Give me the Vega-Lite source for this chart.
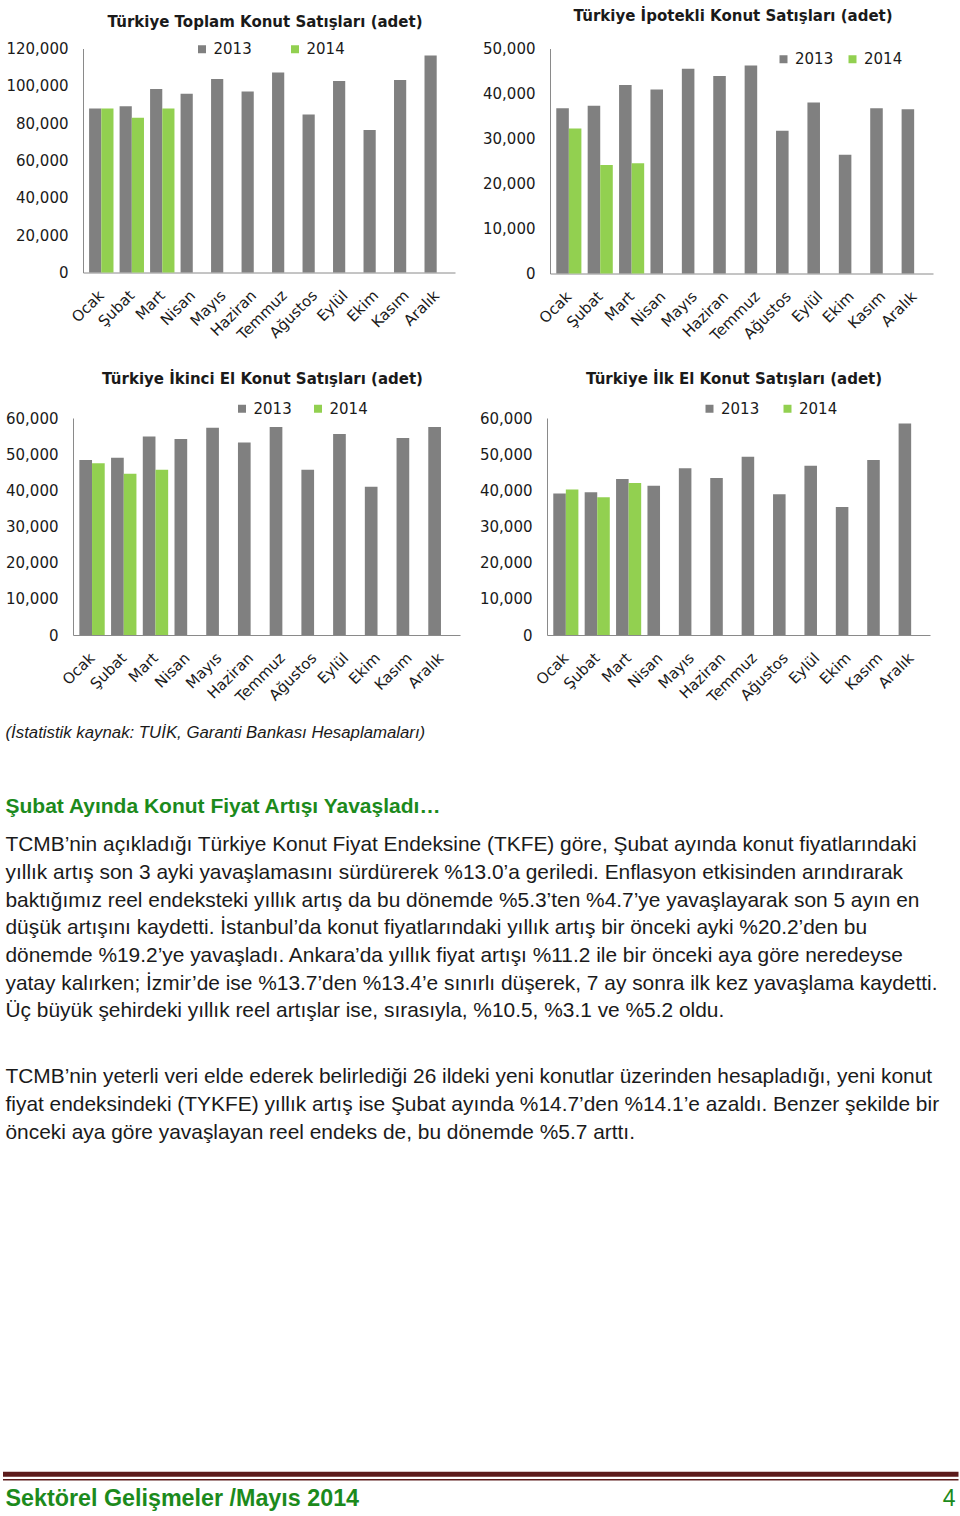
{
  "$schema": "https://vega.github.io/schema/vega-lite/v6.json",
  "background": "white",
  "padding": {"left": 0, "top": 8.5, "right": 0, "bottom": 0},
  "config": {
    "view": {"stroke": null},
    "font": "DejaVu Sans",
    "axis": {"domainColor": "#8a8a8a", "domainWidth": 1, "ticks": false, "grid": false, "labelFont": "DejaVu Sans", "labelFontSize": 15, "labelColor": "#1a1a1a", "labelOverlap": false},
    "axisY": {"labelPadding": 15},
    "axisX": {"labelAngle": -45, "labelPadding": 20, "labelBaseline": "middle", "labelAlign": "right"},
    "legend": {"orient": "none", "direction": "horizontal", "symbolType": "square", "symbolSize": 64, "symbolStrokeWidth": 0, "symbolOpacity": 1, "labelFont": "DejaVu Sans", "labelFontSize": 15, "labelColor": "#1a1a1a", "labelOffset": 4, "padding": 0},
    "title": {"font": "DejaVu Sans", "fontSize": 15, "fontWeight": "bold", "color": "#1a1a1a", "anchor": "middle", "frame": "group"},
    "scale": {"bandPaddingInner": 0.46, "bandPaddingOuter": 0.23}
  },
  "datasets": {
    "toplam": [
      {"month": "Ocak", "year": "2013", "value": 87900}, {"month": "Şubat", "year": "2013", "value": 89000}, {"month": "Mart", "year": "2013", "value": 98300}, {"month": "Nisan", "year": "2013", "value": 95800}, {"month": "Mayıs", "year": "2013", "value": 103700}, {"month": "Haziran", "year": "2013", "value": 96900}, {"month": "Temmuz", "year": "2013", "value": 107100}, {"month": "Ağustos", "year": "2013", "value": 84700}, {"month": "Eylül", "year": "2013", "value": 102600}, {"month": "Ekim", "year": "2013", "value": 76400}, {"month": "Kasım", "year": "2013", "value": 103100}, {"month": "Aralık", "year": "2013", "value": 116200},
      {"month": "Ocak", "year": "2014", "value": 87900}, {"month": "Şubat", "year": "2014", "value": 82900}, {"month": "Mart", "year": "2014", "value": 87900}
    ],
    "ipotekli": [
      {"month": "Ocak", "year": "2013", "value": 36700}, {"month": "Şubat", "year": "2013", "value": 37300}, {"month": "Mart", "year": "2013", "value": 41900}, {"month": "Nisan", "year": "2013", "value": 40900}, {"month": "Mayıs", "year": "2013", "value": 45500}, {"month": "Haziran", "year": "2013", "value": 43900}, {"month": "Temmuz", "year": "2013", "value": 46200}, {"month": "Ağustos", "year": "2013", "value": 31700}, {"month": "Eylül", "year": "2013", "value": 38000}, {"month": "Ekim", "year": "2013", "value": 26400}, {"month": "Kasım", "year": "2013", "value": 36700}, {"month": "Aralık", "year": "2013", "value": 36500},
      {"month": "Ocak", "year": "2014", "value": 32200}, {"month": "Şubat", "year": "2014", "value": 24100}, {"month": "Mart", "year": "2014", "value": 24500}
    ],
    "ikinci": [
      {"month": "Ocak", "year": "2013", "value": 48400}, {"month": "Şubat", "year": "2013", "value": 49000}, {"month": "Mart", "year": "2013", "value": 54900}, {"month": "Nisan", "year": "2013", "value": 54200}, {"month": "Mayıs", "year": "2013", "value": 57300}, {"month": "Haziran", "year": "2013", "value": 53200}, {"month": "Temmuz", "year": "2013", "value": 57500}, {"month": "Ağustos", "year": "2013", "value": 45700}, {"month": "Eylül", "year": "2013", "value": 55600}, {"month": "Ekim", "year": "2013", "value": 41000}, {"month": "Kasım", "year": "2013", "value": 54500}, {"month": "Aralık", "year": "2013", "value": 57500},
      {"month": "Ocak", "year": "2014", "value": 47500}, {"month": "Şubat", "year": "2014", "value": 44600}, {"month": "Mart", "year": "2014", "value": 45700}
    ],
    "ilk": [
      {"month": "Ocak", "year": "2013", "value": 39100}, {"month": "Şubat", "year": "2013", "value": 39500}, {"month": "Mart", "year": "2013", "value": 43100}, {"month": "Nisan", "year": "2013", "value": 41300}, {"month": "Mayıs", "year": "2013", "value": 46100}, {"month": "Haziran", "year": "2013", "value": 43400}, {"month": "Temmuz", "year": "2013", "value": 49300}, {"month": "Ağustos", "year": "2013", "value": 38900}, {"month": "Eylül", "year": "2013", "value": 46800}, {"month": "Ekim", "year": "2013", "value": 35400}, {"month": "Kasım", "year": "2013", "value": 48400}, {"month": "Aralık", "year": "2013", "value": 58500},
      {"month": "Ocak", "year": "2014", "value": 40200}, {"month": "Şubat", "year": "2014", "value": 38100}, {"month": "Mart", "year": "2014", "value": 42000}
    ],
    "kaynak": [{"line": 0, "text": "(İstatistik kaynak: TUİK, Garanti Bankası Hesaplamaları)"}],
    "baslik": [{"line": 0, "text": "Şubat Ayında Konut Fiyat Artışı Yavaşladı…"}],
    "paragraf1": [
      {"line": 0, "text": "TCMB’nin açıkladığı Türkiye Konut Fiyat Endeksine (TKFE) göre, Şubat ayında konut fiyatlarındaki"},
      {"line": 1, "text": "yıllık artış son 3 ayki yavaşlamasını sürdürerek %13.0’a geriledi. Enflasyon etkisinden arındırarak"},
      {"line": 2, "text": "baktığımız reel endeksteki yıllık artış da bu dönemde %5.3’ten %4.7’ye yavaşlayarak son 5 ayın en"},
      {"line": 3, "text": "düşük artışını kaydetti. İstanbul’da konut fiyatlarındaki yıllık artış bir önceki ayki %20.2’den bu"},
      {"line": 4, "text": "dönemde %19.2’ye yavaşladı. Ankara’da yıllık fiyat artışı %11.2 ile bir önceki aya göre neredeyse"},
      {"line": 5, "text": "yatay kalırken; İzmir’de ise %13.7’den %13.4’e sınırlı düşerek, 7 ay sonra ilk kez yavaşlama kaydetti."},
      {"line": 6, "text": "Üç büyük şehirdeki yıllık reel artışlar ise, sırasıyla, %10.5, %3.1 ve %5.2 oldu."}
    ],
    "paragraf2": [
      {"line": 0, "text": "TCMB’nin yeterli veri elde ederek belirlediği 26 ildeki yeni konutlar üzerinden hesapladığı, yeni konut"},
      {"line": 1, "text": "fiyat endeksindeki (TYKFE) yıllık artış ise Şubat ayında %14.7’den %14.1’e azaldı. Benzer şekilde bir"},
      {"line": 2, "text": "önceki aya göre yavaşlayan reel endeks de, bu dönemde %5.7 arttı."}
    ],
    "altbilgi": [{"line": 0, "title": "Sektörel Gelişmeler /Mayıs 2014", "page": "4"}]
  },
  "concat": [
    {
      "concat": [
        {
          "hconcat": [
            {
              "width": 382, "height": 224,
              "title": {"text": "Türkiye Toplam Konut Satışları (adet)", "offset": 12, "dx": 1},
              "data": {"name": "toplam"},
              "mark": {"type": "bar"},
              "encoding": {
                "x": {"field": "month", "type": "nominal", "sort": ["Ocak", "Şubat", "Mart", "Nisan", "Mayıs", "Haziran", "Temmuz", "Ağustos", "Eylül", "Ekim", "Kasım", "Aralık"], "scale": {"range": [10, 382]}, "axis": {"title": null}},
                "xOffset": {"field": "year", "type": "nominal", "scale": {"domain": ["2013", "2014"]}},
                "y": {"field": "value", "type": "quantitative", "scale": {"domain": [0, 120000]}, "axis": {"title": null, "offset": -10, "values": [0, 20000, 40000, 60000, 80000, 100000, 120000], "format": ",.0f"}},
                "color": {"field": "year", "type": "nominal", "scale": {"domain": ["2013", "2014"], "range": ["#808080", "#92d050"]}, "legend": {"title": null, "legendX": 121.5, "legendY": -7, "columnPadding": 35}}
              }
            },
            {
              "width": 383, "height": 225,
              "title": {"text": "Türkiye İpotekli Konut Satışları (adet)", "offset": 18, "dx": -8.5},
              "data": {"name": "ipotekli"},
              "mark": {"type": "bar"},
              "encoding": {
                "x": {"field": "month", "type": "nominal", "sort": ["Ocak", "Şubat", "Mart", "Nisan", "Mayıs", "Haziran", "Temmuz", "Ağustos", "Eylül", "Ekim", "Kasım", "Aralık"], "axis": {"title": null}},
                "xOffset": {"field": "year", "type": "nominal", "scale": {"domain": ["2013", "2014"]}},
                "y": {"field": "value", "type": "quantitative", "scale": {"domain": [0, 50000]}, "axis": {"title": null, "values": [0, 10000, 20000, 30000, 40000, 50000], "format": ",.0f"}},
                "color": {"field": "year", "type": "nominal", "scale": {"domain": ["2013", "2014"], "range": ["#808080", "#92d050"]}, "legend": {"title": null, "legendX": 226, "legendY": 3, "columnPadding": 11}}
              }
            }
          ],
          "spacing": 27,
          "resolve": {"scale": {"color": "independent", "xOffset": "independent"}, "legend": {"color": "independent"}}
        },
        {
          "hconcat": [
            {
              "width": 387, "height": 217,
              "title": {"text": "Türkiye İkinci El Konut Satışları (adet)", "offset": 14.5, "dx": -4},
              "data": {"name": "ikinci"},
              "mark": {"type": "bar"},
              "encoding": {
                "x": {"field": "month", "type": "nominal", "sort": ["Ocak", "Şubat", "Mart", "Nisan", "Mayıs", "Haziran", "Temmuz", "Ağustos", "Eylül", "Ekim", "Kasım", "Aralık"], "axis": {"title": null}},
                "xOffset": {"field": "year", "type": "nominal", "scale": {"domain": ["2013", "2014"]}},
                "y": {"field": "value", "type": "quantitative", "scale": {"domain": [0, 60000]}, "axis": {"title": null, "values": [0, 10000, 20000, 30000, 40000, 50000, 60000], "format": ",.0f"}},
                "color": {"field": "year", "type": "nominal", "scale": {"domain": ["2013", "2014"], "range": ["#808080", "#92d050"]}, "legend": {"title": null, "legendX": 161.5, "legendY": -17, "columnPadding": 18}}
              }
            },
            {
              "width": 383, "height": 217,
              "title": {"text": "Türkiye İlk El Konut Satışları (adet)", "offset": 14.5, "dx": -4.5},
              "data": {"name": "ilk"},
              "mark": {"type": "bar"},
              "encoding": {
                "x": {"field": "month", "type": "nominal", "sort": ["Ocak", "Şubat", "Mart", "Nisan", "Mayıs", "Haziran", "Temmuz", "Ağustos", "Eylül", "Ekim", "Kasım", "Aralık"], "axis": {"title": null}},
                "xOffset": {"field": "year", "type": "nominal", "scale": {"domain": ["2013", "2014"]}},
                "y": {"field": "value", "type": "quantitative", "scale": {"domain": [0, 60000]}, "axis": {"title": null, "values": [0, 10000, 20000, 30000, 40000, 50000, 60000], "format": ",.0f"}},
                "color": {"field": "year", "type": "nominal", "scale": {"domain": ["2013", "2014"], "range": ["#808080", "#92d050"]}, "legend": {"title": null, "legendX": 155, "legendY": -17, "columnPadding": 20}}
              }
            }
          ],
          "spacing": 19,
          "resolve": {"scale": {"color": "independent", "xOffset": "independent"}, "legend": {"color": "independent"}}
        }
      ],
      "columns": 1,
      "spacing": 27.5,
      "resolve": {"scale": {"color": "independent", "xOffset": "independent"}, "legend": {"color": "independent"}}
    },
    {
      "width": 950, "height": 800,
      "layer": [
        {
          "data": {"name": "kaynak"},
          "mark": {"type": "text", "align": "left", "baseline": "middle", "font": "Liberation Sans", "fontSize": 16.8, "fontStyle": "italic", "color": "#1a1a1a"},
          "encoding": {
            "x": {"datum": 0, "type": "quantitative", "scale": {"domain": [0, 1], "range": [-67.5, 882.5]}, "axis": null},
            "y": {"field": "line", "type": "ordinal", "scale": {"type": "point", "range": [21.7, 21.7], "padding": 0}, "axis": null},
            "text": {"field": "text"}
          }
        },
        {
          "data": {"name": "baslik"},
          "mark": {"type": "text", "align": "left", "baseline": "middle", "font": "Liberation Sans", "fontSize": 21, "fontWeight": "bold", "color": "#1c8a1c"},
          "encoding": {
            "x": {"datum": 0, "type": "quantitative", "scale": {"domain": [0, 1], "range": [-67.5, 882.5]}, "axis": null},
            "y": {"field": "line", "type": "ordinal", "scale": {"type": "point", "range": [95.7, 95.7], "padding": 0}, "axis": null},
            "text": {"field": "text"}
          }
        },
        {
          "data": {"name": "paragraf1"},
          "mark": {"type": "text", "align": "left", "baseline": "middle", "font": "Liberation Sans", "fontSize": 20.9, "color": "#1a1a1a"},
          "encoding": {
            "x": {"datum": 0, "type": "quantitative", "scale": {"domain": [0, 1], "range": [-67.5, 882.5]}, "axis": null},
            "y": {"field": "line", "type": "ordinal", "scale": {"type": "point", "range": [133.7, 299.7], "padding": 0}, "axis": null},
            "text": {"field": "text"}
          }
        },
        {
          "data": {"name": "paragraf2"},
          "mark": {"type": "text", "align": "left", "baseline": "middle", "font": "Liberation Sans", "fontSize": 20.9, "color": "#1a1a1a"},
          "encoding": {
            "x": {"datum": 0, "type": "quantitative", "scale": {"domain": [0, 1], "range": [-67.5, 882.5]}, "axis": null},
            "y": {"field": "line", "type": "ordinal", "scale": {"type": "point", "range": [365.7, 421.7], "padding": 0}, "axis": null},
            "text": {"field": "text"}
          }
        },
        {
          "data": {"name": "altbilgi"},
          "mark": {"type": "rule", "color": "#5c1c1c", "strokeWidth": 5},
          "encoding": {
            "x": {"datum": 0, "type": "quantitative", "scale": {"domain": [0, 1], "range": [-70, 885.5]}, "axis": null},
            "x2": {"datum": 1},
            "y": {"field": "line", "type": "ordinal", "scale": {"type": "point", "range": [762.7, 762.7], "padding": 0}, "axis": null}
          }
        },
        {
          "data": {"name": "altbilgi"},
          "mark": {"type": "rule", "color": "#5c1c1c", "strokeWidth": 1.5},
          "encoding": {
            "x": {"datum": 0, "type": "quantitative", "scale": {"domain": [0, 1], "range": [-70, 885.5]}, "axis": null},
            "x2": {"datum": 1},
            "y": {"field": "line", "type": "ordinal", "scale": {"type": "point", "range": [768.2, 768.2], "padding": 0}, "axis": null}
          }
        },
        {
          "data": {"name": "altbilgi"},
          "mark": {"type": "text", "align": "left", "baseline": "middle", "font": "Liberation Sans", "fontSize": 23.3, "fontWeight": "bold", "color": "#1c8a1c"},
          "encoding": {
            "x": {"datum": 0, "type": "quantitative", "scale": {"domain": [0, 1], "range": [-67.5, 882.5]}, "axis": null},
            "y": {"field": "line", "type": "ordinal", "scale": {"type": "point", "range": [787.7, 787.7], "padding": 0}, "axis": null},
            "text": {"field": "title"}
          }
        },
        {
          "data": {"name": "altbilgi"},
          "mark": {"type": "text", "align": "right", "baseline": "middle", "font": "Liberation Sans", "fontSize": 23, "color": "#1c8a1c"},
          "encoding": {
            "x": {"datum": 1, "type": "quantitative", "scale": {"domain": [0, 1], "range": [-67.5, 882.5]}, "axis": null},
            "y": {"field": "line", "type": "ordinal", "scale": {"type": "point", "range": [787.7, 787.7], "padding": 0}, "axis": null},
            "text": {"field": "page"}
          }
        }
      ],
      "resolve": {"scale": {"y": "independent", "x": "independent"}}
    }
  ],
  "columns": 1,
  "spacing": 6,
  "resolve": {"scale": {"color": "independent", "xOffset": "independent"}, "legend": {"color": "independent"}}
}
